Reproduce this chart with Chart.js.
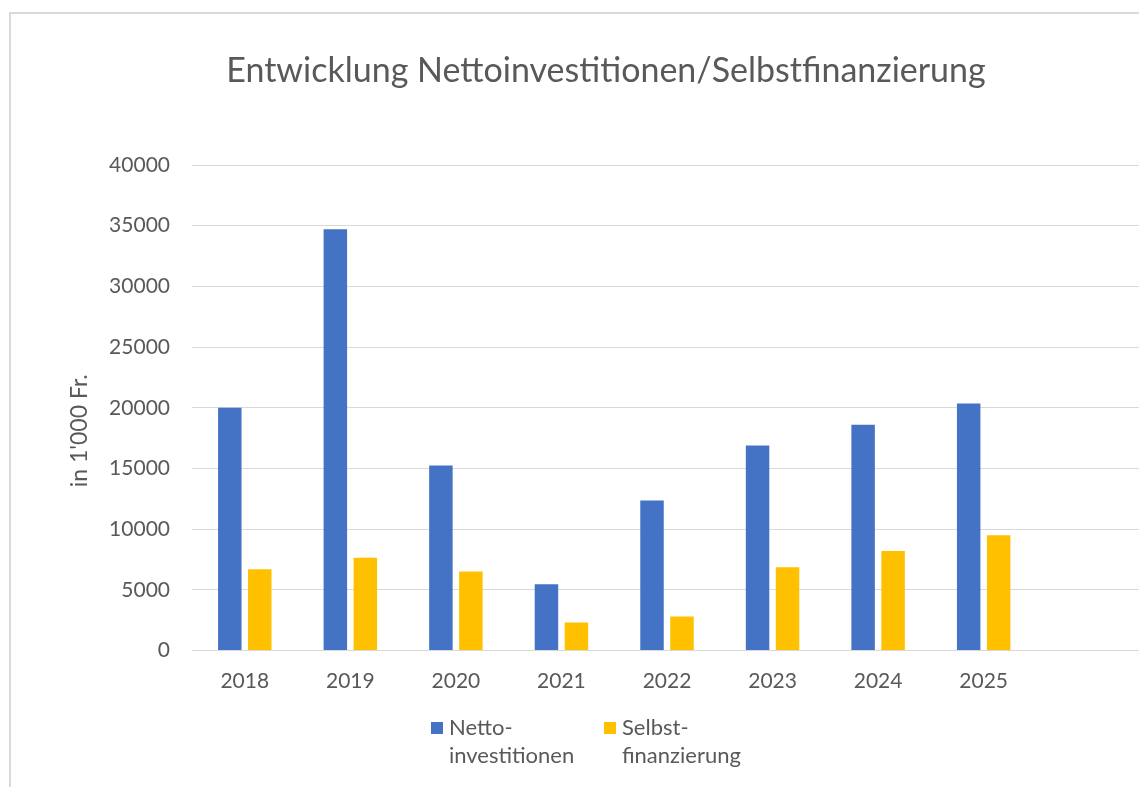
<!DOCTYPE html>
<html>
<head>
<meta charset="utf-8">
<script src="https://cdn.jsdelivr.net/npm/chart.js@4"></script>
<style>
  html, body { margin: 0; padding: 0; background: #fff; overflow: hidden; }
  #wrap { position: absolute; left: 0; top: 0; width: 1202px; height: 787px; }
  #frame { position: absolute; left: 9px; top: 12px; width: 1400px; height: 1000px;
           border: 2.5px solid #d9d9d9; pointer-events: none; }
</style>
</head>
<body>
<div id="wrap"><canvas id="chart"></canvas></div>
<div id="frame"></div>
<script>
// Jahre (letzte Kategorie bleibt leer wie im Original)
const years = ['2018', '2019', '2020', '2021', '2022', '2023', '2024', '2025', ''];
const nettoInvestitionen = [20000, 34700, 15250, 5450, 12350, 16900, 18600, 20350];
const selbstfinanzierung = [6700, 7650, 6500, 2300, 2800, 6850, 8200, 9500];
const seriesNames = [['Netto-', 'investitionen'], ['Selbst-', 'finanzierung']];
const yTicks = [0, 5000, 10000, 15000, 20000, 25000, 30000, 35000, 40000];
const yAxisTitle = "in 1'000 Fr.";

const FONT = 'Lato, "Open Sans", sans-serif';
const TEXT = '#595959';

// Legende mit zweizeiligen Beschriftungen + Achsentitel selbst zeichnen
const legendPlugin = {
  id: 'multiLineLegend',
  afterDraw(chart) {
    const ctx = chart.ctx;
    const area = chart.chartArea;
    const base = area.bottom;
    const startX = [431, 604];
    ctx.save();
    ctx.font = '22px ' + FONT;
    ctx.textBaseline = 'alphabetic';
    ctx.textAlign = 'left';
    chart.data.datasets.forEach((ds, i) => {
      const x = startX[i];
      ctx.fillStyle = ds.backgroundColor;
      ctx.fillRect(x, base + 71.5, 12, 12);
      ctx.fillStyle = TEXT;
      ds.label.forEach((line, j) => {
        ctx.fillText(line, x + 18, base + 84.5 + j * 28);
      });
    });
    ctx.restore();

    // Y-Achsentitel (wie im Original leicht unter der Mitte)
    ctx.save();
    ctx.font = '23px ' + FONT;
    ctx.fillStyle = TEXT;
    ctx.textAlign = 'center';
    ctx.textBaseline = 'middle';
    ctx.translate(80, (area.top + area.bottom) / 2 + 23);
    ctx.rotate(-Math.PI / 2);
    ctx.fillText(yAxisTitle, 0, 0);
    ctx.restore();
  }
};

new Chart(document.getElementById('chart'), {
  type: 'bar',
  data: {
    labels: years,
    datasets: [
      {
        label: seriesNames[0],
        data: nettoInvestitionen,
        backgroundColor: '#4472C4',
        categoryPercentage: 0.568,
        barPercentage: 0.783
      },
      {
        label: seriesNames[1],
        data: selbstfinanzierung,
        backgroundColor: '#FFC000',
        categoryPercentage: 0.568,
        barPercentage: 0.783
      }
    ]
  },
  options: {
    responsive: true,
    maintainAspectRatio: false,
    animation: false,
    layout: { padding: { left: 70, right: 60, top: 0, bottom: 0 } },
    plugins: {
      legend: { display: false },
      tooltip: { enabled: false },
      title: {
        display: true,
        text: 'Entwicklung Nettoinvestitionen/Selbstfinanzierung',
        color: TEXT,
        font: { family: FONT, size: 34, weight: 'normal', lineHeight: 1.2 },
        padding: { top: 50.6, bottom: 73.6 }
      }
    },
    scales: {
      x: {
        grid: { display: false, drawTicks: false },
        border: { display: false },
        ticks: {
          color: TEXT,
          padding: 18,
          font: { family: FONT, size: 21 },
          maxRotation: 0
        },
        afterFit: scale => { scale.height = 136.5; }
      },
      y: {
        min: 0,
        max: 40000,
        afterBuildTicks: scale => { scale.ticks = yTicks.map(v => ({ value: v })); },
        grid: { color: '#d9d9d9', lineWidth: 1, drawTicks: false },
        border: { display: false },
        ticks: {
          color: TEXT,
          padding: 22,
          font: { family: FONT, size: 21 },
          callback: value => String(value)
        },
        afterFit: scale => { scale.width = 122; }
      }
    }
  },
  plugins: [legendPlugin]
});
</script>
</body>
</html>
